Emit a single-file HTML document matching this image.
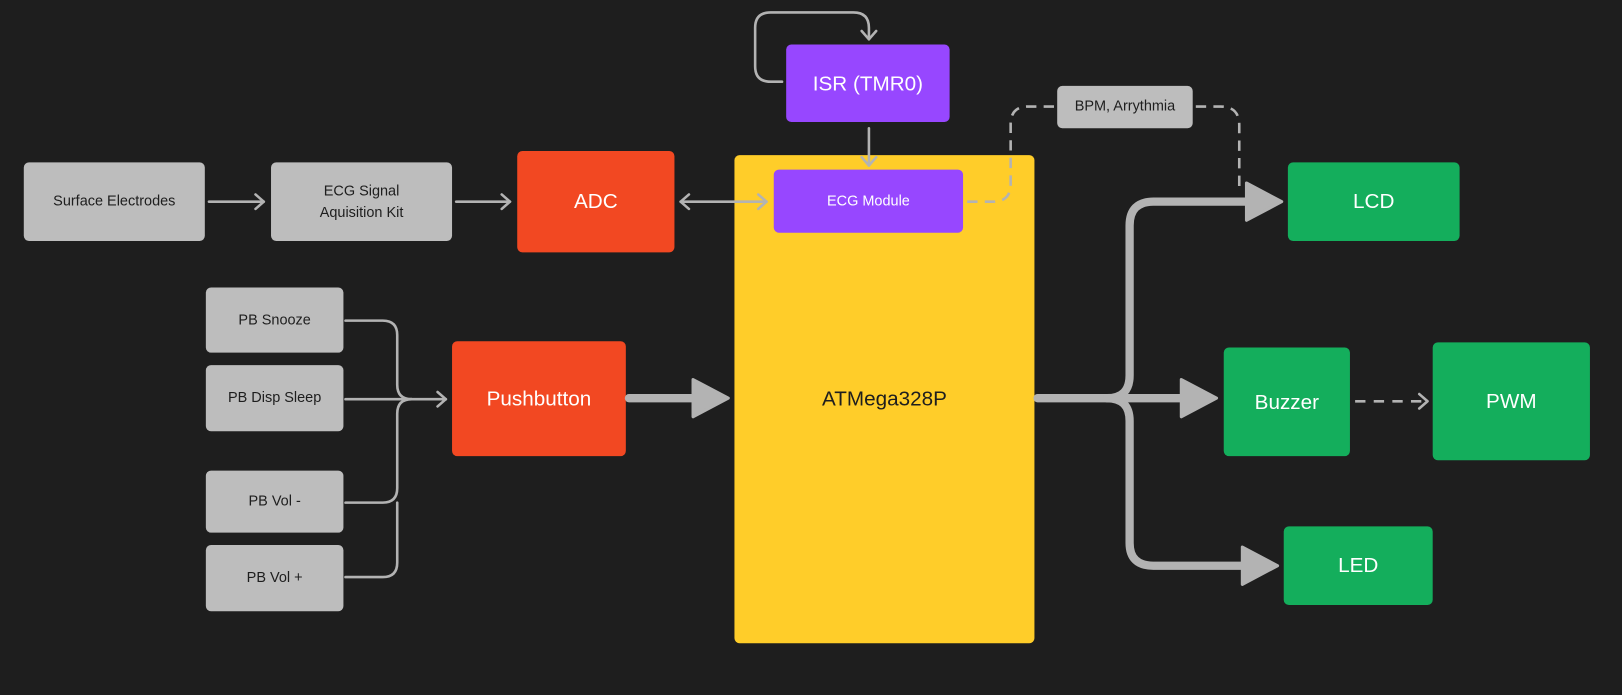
<!DOCTYPE html>
<html><head><style>
html,body{margin:0;padding:0;background:#1e1e1e;}
svg{display:block;}
text{font-family:"Liberation Sans",sans-serif;text-anchor:middle;dominant-baseline:central;}
</style></head><body>
<svg width="1622" height="695" viewBox="0 0 1568 672" preserveAspectRatio="none" xmlns="http://www.w3.org/2000/svg">
<rect width="1568" height="672" fill="#1e1e1e"/>

<!-- boxes -->
<g fill="#bdbdbd">
<rect x="23" y="157" width="175" height="76" rx="5"/>
<rect x="262" y="157" width="175" height="76" rx="5"/>
<rect x="199" y="278" width="133" height="63" rx="5"/>
<rect x="199" y="353" width="133" height="64" rx="5"/>
<rect x="199" y="455" width="133" height="60" rx="5"/>
<rect x="199" y="527" width="133" height="64" rx="5"/>
<rect x="1022" y="83" width="131" height="41" rx="5"/>
</g>
<rect x="500" y="146" width="152" height="98" rx="5" fill="#f24822"/>
<rect x="437" y="330" width="168" height="111" rx="5" fill="#f24822"/>
<rect x="710" y="150" width="290" height="472" rx="5" fill="#ffcd29"/>
<rect x="760" y="43" width="158" height="75" rx="5" fill="#9747ff"/>
<rect x="748" y="164" width="183" height="61" rx="5" fill="#9747ff"/>
<g fill="#14ae5c">
<rect x="1245" y="157" width="166" height="76" rx="5"/>
<rect x="1183" y="336" width="122" height="105" rx="5"/>
<rect x="1385" y="331" width="152" height="114" rx="5"/>
<rect x="1241" y="509" width="144" height="76" rx="5"/>
</g>

<!-- thin connectors -->
<g fill="none" stroke="#b3b3b3" stroke-width="2.5" stroke-linecap="round" stroke-linejoin="round">
<line x1="202" y1="195" x2="255" y2="195"/><path d="M247,188 L255,195 L247,202"/>
<line x1="441" y1="195" x2="493" y2="195"/><path d="M485,188 L493,195 L485,202"/>
<line x1="658" y1="195" x2="741" y2="195"/><path d="M666,188 L658,195 L666,202"/><path d="M733,188 L741,195 L733,202"/>
<line x1="840" y1="124" x2="840" y2="160"/><path d="M833,152 L840,160 L847,152"/>
<path d="M756,79 H745 Q730,79 730,64 V27 Q730,12 745,12 H825 Q840,12 840,27 V38"/><path d="M833,30 L840,38 L847,30"/>
<path d="M334,310 H370 Q384,310 384,324 V372 Q384,386 398,386 H431"/><path d="M423,379 L431,386 L423,393"/>
<path d="M334,386 H398"/>
<path d="M334,486 H370 Q384,486 384,472 V400 Q384,386 398,386"/>
<path d="M334,558 H370 Q384,558 384,544 V486"/>
<path d="M1372,381 L1380,388 L1372,395"/>
</g>
<g fill="none" stroke="#b3b3b3" stroke-width="2.5" stroke-dasharray="10,7">
<path d="M935,195 H960 Q977,195 977,178 V120 Q977,103 994,103 H1020"/>
<path d="M1156,103 H1180 Q1198,103 1198,121 V186"/>
<line x1="1310" y1="388" x2="1378" y2="388" stroke-dasharray="10,8"/>
</g>
<!-- thick connectors -->
<g fill="none" stroke="#b3b3b3" stroke-width="8" stroke-linecap="round">
<line x1="608" y1="385" x2="675" y2="385"/>
<path d="M1003,385 H1070 Q1092,385 1092,363 V218 Q1092,195 1115,195 H1210"/>
<line x1="1070" y1="385" x2="1145" y2="385"/>
<path d="M1070,385 Q1092,385 1092,407 V525 Q1092,547 1115,547 H1205"/>
</g>
<g fill="#b3b3b3" stroke="#b3b3b3" stroke-width="3" stroke-linejoin="round">
<path d="M670,367 L704,385 L670,403 Z"/>
<path d="M1142,367 L1176,385 L1142,403 Z"/>
<path d="M1205,177 L1239,195 L1205,213 Z"/>
<path d="M1201,529 L1235,547 L1201,565 Z"/>
</g>

<!-- labels -->
<g fill="#1e1e1e" font-size="14">
<text x="110.5" y="195">Surface Electrodes</text>
<text x="349.5" y="185">ECG Signal</text>
<text x="349.5" y="206">Aquisition Kit</text>
<text x="265.5" y="310">PB Snooze</text>
<text x="265.5" y="385">PB Disp Sleep</text>
<text x="265.5" y="485">PB Vol -</text>
<text x="265.5" y="559">PB Vol +</text>
<text x="1087.5" y="103">BPM, Arrythmia</text>
</g>
<g fill="#ffffff" font-size="20">
<text x="576" y="195">ADC</text>
<text x="521" y="386">Pushbutton</text>
<text x="839" y="81">ISR (TMR0)</text>
<text x="1328" y="195">LCD</text>
<text x="1244" y="389">Buzzer</text>
<text x="1461" y="388">PWM</text>
<text x="1313" y="547">LED</text>
</g>
<text x="839.5" y="195" fill="#ffffff" font-size="14">ECG Module</text>
<text x="855" y="386" fill="#1e1e1e" font-size="20">ATMega328P</text>
</svg>
</body></html>
